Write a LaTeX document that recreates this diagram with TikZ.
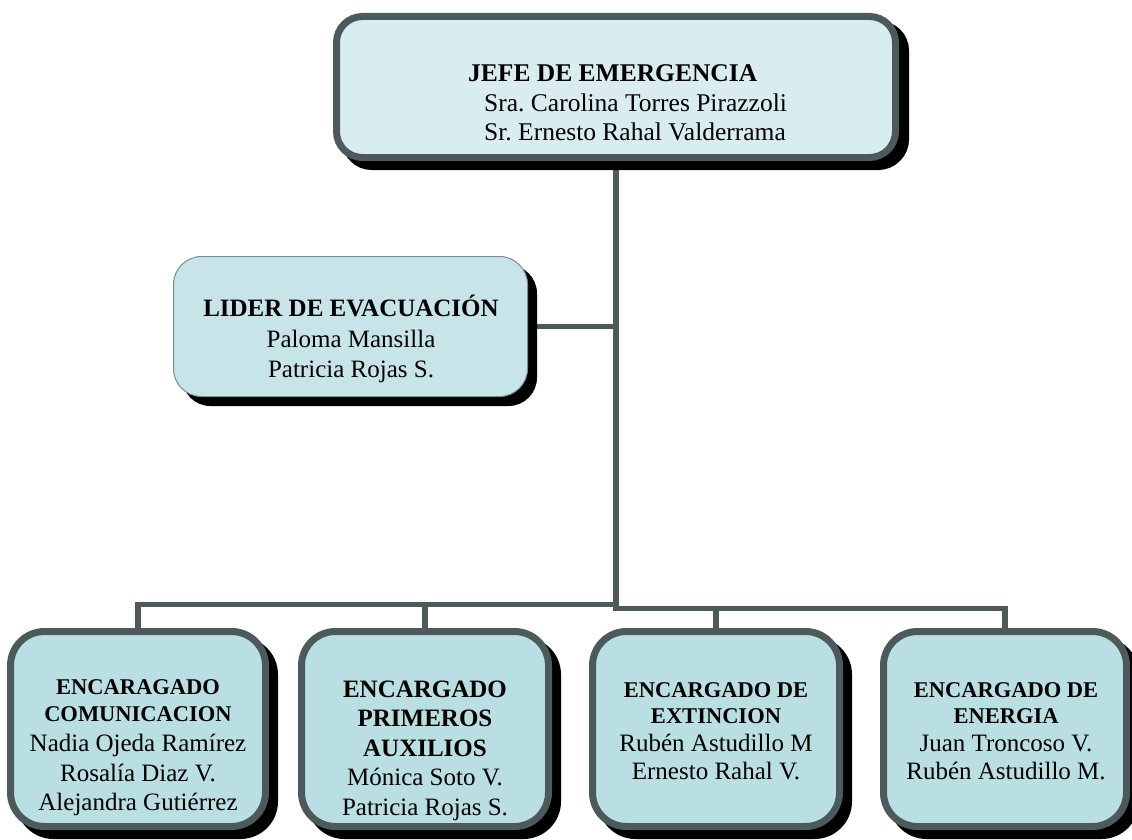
\documentclass[tikz,border=0pt]{standalone}
\usepackage{fontspec}
\setmainfont{Liberation Serif}
\frenchspacing
\usetikzlibrary{shadows,backgrounds}
\definecolor{boxline}{HTML}{4C5A5B}
\definecolor{topfill}{HTML}{D9EDF0}
\definecolor{boxfill}{HTML}{B9DFE3}
\definecolor{liderfill}{HTML}{C7E5E9}
\definecolor{liderline}{HTML}{7E8C8D}
\newcommand{\hd}[1]{{\fontsize{22.5}{26}\selectfont\bfseries #1}}
\tikzset{
SHADE/.style={general shadow={fill=black,draw=black,line width=#1,shadow xshift=9pt,shadow yshift=-9pt}},
SHADE/.default=7pt,
BOX/.style={draw=boxline,line width=7pt,rounded corners=34pt,fill=#1,SHADE},
BOX/.default=boxfill,
LEAD/.style={draw=liderline,line width=1pt,rounded corners=28pt,fill=liderfill,SHADE=1pt},
TXT/.style={font=\fontsize{25}{29.5}\selectfont,inner sep=0pt,align=center},
LINK/.style={draw=boxline,line width=5.5pt},
}
\begin{document}
\begin{tikzpicture}[x=1pt,y=-1pt]
	\useasboundingbox (0,0) rectangle (1132,840);
	% cajas
	\node[BOX=topfill,rounded corners=26pt,minimum width=559pt,minimum height=141pt,
		general shadow={fill=black,draw=black,line width=7pt,shadow xshift=10pt,shadow yshift=-8pt}] (jefe) at (616,87) {};
	\node[LEAD,minimum width=354pt,minimum height=140pt] (lider) at (350.5,326.5) {};
	\node[BOX,minimum width=255pt,minimum height=195pt] (b1) at (138,729) {};
	\node[BOX,minimum width=247pt,minimum height=195pt] (b2) at (425,729) {};
	\node[BOX,minimum width=247pt,minimum height=195pt] (b3) at (716,729) {};
	\node[BOX,minimum width=243pt,minimum height=195pt] (b4) at (1005,729) {};
	% textos (base = ultima linea)
	\node[TXT,font=\fontsize{25.5}{29}\selectfont,align=left,anchor=base west] (jefeT) at (468,141)
		{\textbf{JEFE DE EMERGENCIA}\\[1pt]\hspace*{16pt}Sra. Carolina Torres Pirazzoli\\\hspace*{16pt}Sr. Ernesto Rahal Valderrama};
	\node[TXT,font=\fontsize{25}{30}\selectfont,anchor=base] (liderT) at (351,377)
		{\textbf{LIDER DE EVACUACIÓN}\\[1pt]Paloma Mansilla\\Patricia Rojas S.};
	\node[TXT,anchor=base] (b1T) at (138,810)
		{\hd{ENCARAGADO}\\[-2.5pt]\hd{COMUNICACION}\\[0.5pt]Nadia Ojeda Ramírez\\[0.5pt]Rosalía Diaz V.\\[-1pt]Alejandra Gutiérrez};
	\node[TXT,anchor=base] (b2T) at (425,815)
		{\textbf{ENCARGADO}\\\textbf{PRIMEROS}\\\textbf{AUXILIOS}\\Mónica Soto V.\\Patricia Rojas S.};
	\node[TXT,font=\fontsize{25}{28}\selectfont,anchor=base] (b3T) at (716,779)
		{\hd{ENCARGADO DE}\\[-2.5pt]\hd{EXTINCION}\\Rubén Astudillo M\\Ernesto Rahal V.};
	\node[TXT,font=\fontsize{25}{28}\selectfont,anchor=base] (b4T) at (1006,779)
		{\hd{ENCARGADO DE}\\[-2.5pt]\hd{ENERGIA}\\Juan Troncoso V.\\Rubén Astudillo M.};
	% lineas
	\begin{scope}[on background layer]
		\coordinate (busL) at (616,604.5);
		\coordinate (busR) at (616,608.5);
		\draw[LINK] (jefe.south) -- (busR) -| (b4.north);
		\draw[LINK] (busR) -| (b3.north);
		\draw[LINK] (busL) -| (b1.north);
		\draw[LINK] (busL) -| (b2.north);
		\draw[LINK] (lider.east) -- (lider.east -| jefe.south);
	\end{scope}
\end{tikzpicture}
\end{document}
